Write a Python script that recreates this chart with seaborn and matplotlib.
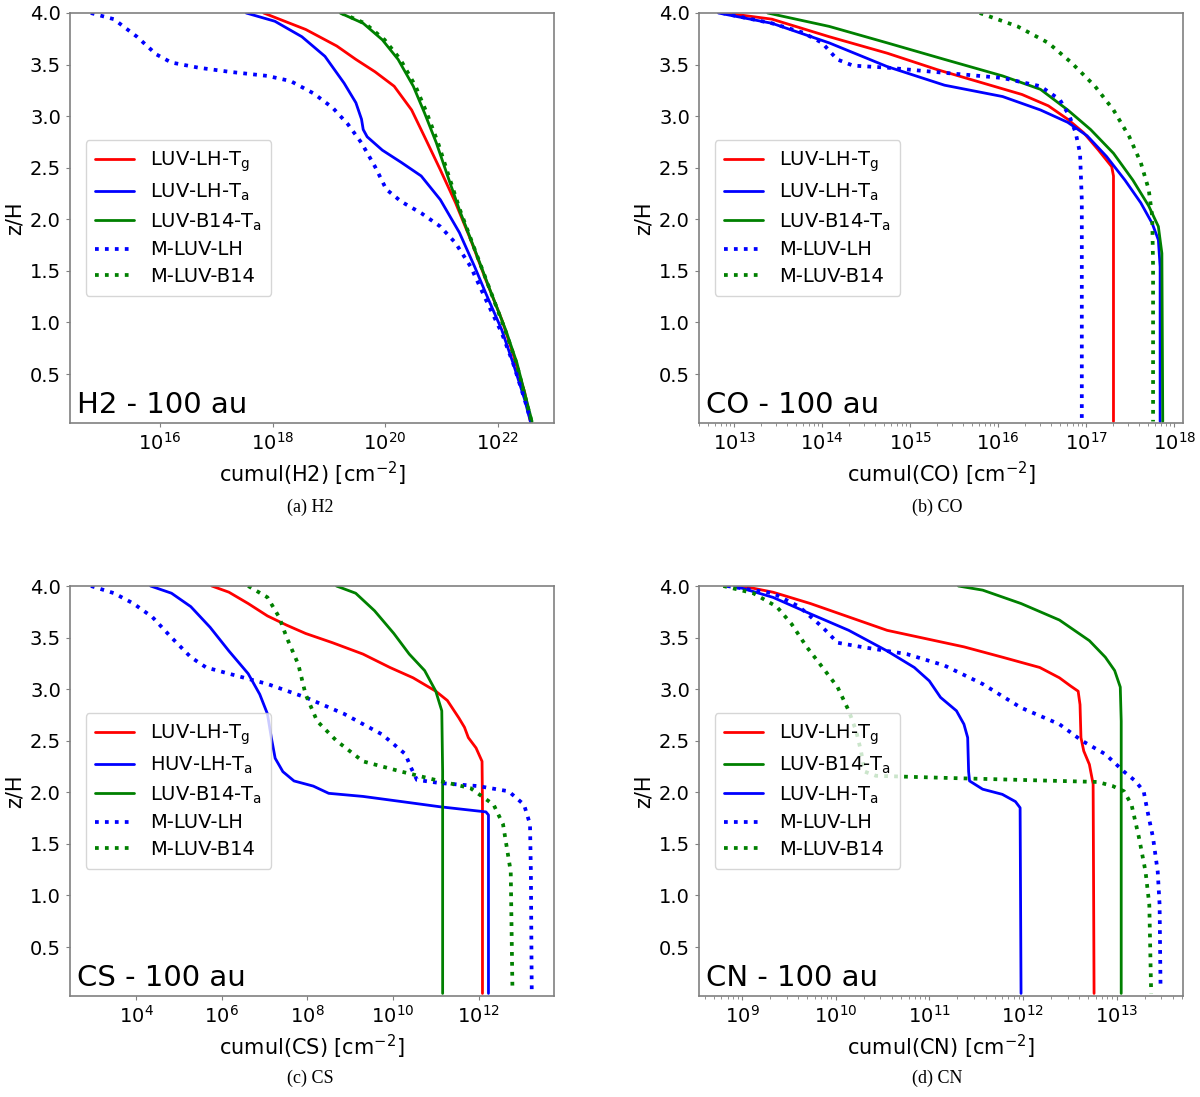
import numpy as np
import pandas as pd
import matplotlib
matplotlib.use("Agg")
import matplotlib.pyplot as plt
import seaborn as sns
from matplotlib import ticker

# ----------------------
# Data (z/H, log10 of cumulative column density)
# ----------------------

# (a) H2
h2_tg_z = [4.0, 3.84, 3.68, 3.55, 3.43, 3.29, 3.06, 2.80, 2.48, 2.16, 1.80, 1.41, 1.03, 0.70, 0.32, 0.04]
h2_tg_n = [17.84, 18.59, 19.14, 19.48, 19.82, 20.16, 20.47, 20.70, 20.98, 21.25, 21.52, 21.79, 22.07, 22.27, 22.48, 22.58]
h2_ta_z = [4.0, 3.92, 3.77, 3.58, 3.32, 3.13, 2.97, 2.87, 2.80, 2.67, 2.55, 2.42, 2.19, 1.87, 1.54, 1.28, 0.93, 0.61, 0.25, 0.04]
h2_ta_n = [17.53, 18.04, 18.52, 18.93, 19.27, 19.48, 19.58, 19.61, 19.68, 19.95, 20.29, 20.64, 20.98, 21.32, 21.59, 21.79, 22.07, 22.27, 22.48, 22.58]
h2_b14_z = [4.0, 3.90, 3.74, 3.55, 3.29, 3.03, 2.74, 2.42, 2.09, 1.71, 1.32, 0.93, 0.61, 0.25, 0.04]
h2_b14_n = [19.20, 19.61, 19.95, 20.23, 20.50, 20.70, 20.91, 21.11, 21.32, 21.59, 21.86, 22.14, 22.34, 22.51, 22.61]
h2_mlh_z = [4.0, 3.94, 3.77, 3.60, 3.52, 3.47, 3.43, 3.39, 3.34, 3.22, 3.08, 2.92, 2.74, 2.51, 2.29, 2.17, 2.06, 1.93, 1.77, 1.54, 1.22, 0.90, 0.61, 0.25, 0.06]
h2_mlh_n = [14.77, 15.18, 15.59, 15.93, 16.20, 16.68, 17.23, 17.91, 18.32, 18.73, 19.07, 19.34, 19.58, 19.82, 20.02, 20.29, 20.64, 20.98, 21.25, 21.52, 21.79, 22.07, 22.27, 22.48, 22.58]
h2_mb14_z = [4.0, 3.90, 3.74, 3.55, 3.29, 3.03, 2.74, 2.42, 2.09, 1.71, 1.32, 0.93, 0.61, 0.25, 0.04]
h2_mb14_n = [19.22, 19.64, 19.99, 20.27, 20.54, 20.74, 20.94, 21.13, 21.33, 21.59, 21.86, 22.13, 22.33, 22.50, 22.60]

# (b) CO
co_tg_z = [4.0, 3.94, 3.77, 3.61, 3.45, 3.32, 3.21, 3.10, 2.97, 2.84, 2.67, 2.51, 2.42, 0.04]
co_tg_n = [12.90, 13.43, 14.08, 14.74, 15.31, 15.83, 16.27, 16.57, 16.79, 16.97, 17.14, 17.29, 17.31, 17.31]
co_ta_z = [4.0, 3.90, 3.71, 3.48, 3.30, 3.19, 3.06, 2.94, 2.81, 2.61, 2.38, 2.16, 1.96, 1.80, 1.54, 0.04]
co_ta_n = [12.82, 13.43, 14.08, 14.74, 15.39, 16.05, 16.48, 16.79, 17.01, 17.23, 17.44, 17.62, 17.75, 17.82, 17.84, 17.84]
co_b14_z = [4.0, 3.87, 3.71, 3.55, 3.39, 3.26, 3.06, 2.87, 2.64, 2.38, 2.13, 1.93, 1.67, 0.04]
co_b14_n = [13.38, 14.08, 14.74, 15.39, 16.05, 16.48, 16.79, 17.05, 17.31, 17.53, 17.71, 17.82, 17.86, 17.87]
co_mlh_z = [4.0, 3.90, 3.81, 3.71, 3.55, 3.49, 3.47, 3.42, 3.37, 3.29, 3.16, 3.00, 2.84, 2.64, 2.19, 0.04]
co_mlh_n = [12.86, 13.43, 13.78, 14.00, 14.17, 14.35, 14.74, 15.39, 16.05, 16.48, 16.70, 16.81, 16.88, 16.93, 16.95, 16.95]
co_mb14_z = [4.0, 3.87, 3.71, 3.52, 3.29, 3.06, 2.80, 2.55, 2.29, 2.03, 1.54, 0.04]
co_mb14_n = [15.79, 16.22, 16.57, 16.83, 17.10, 17.31, 17.49, 17.62, 17.71, 17.75, 17.76, 17.76]

# (c) CS
cs_tg_z = [4.0, 3.94, 3.83, 3.71, 3.62, 3.54, 3.45, 3.34, 3.21, 3.11, 2.98, 2.89, 2.72, 2.63, 2.53, 2.43, 2.30, 1.88, 0.05]
cs_tg_n = [5.77, 6.17, 6.62, 7.07, 7.52, 7.96, 8.59, 9.30, 9.93, 10.47, 11.00, 11.27, 11.54, 11.67, 11.76, 11.94, 12.08, 12.09, 12.09]
cs_huv_z = [4.0, 3.93, 3.80, 3.60, 3.37, 3.15, 2.95, 2.76, 2.53, 2.33, 2.20, 2.11, 2.06, 1.99, 1.96, 1.91, 1.86, 1.81, 1.78, 0.05]
cs_huv_n = [4.34, 4.83, 5.28, 5.73, 6.17, 6.62, 6.89, 7.07, 7.16, 7.25, 7.43, 7.69, 8.14, 8.50, 9.30, 10.20, 11.09, 12.17, 12.23, 12.23]
cs_b14_z = [4.0, 3.93, 3.76, 3.54, 3.34, 3.18, 2.98, 2.79, 2.20, 0.05]
cs_b14_n = [8.68, 9.13, 9.57, 10.02, 10.38, 10.74, 11.00, 11.14, 11.16, 11.16]
cs_mlh_z = [4.0, 3.93, 3.83, 3.70, 3.50, 3.31, 3.21, 3.15, 3.05, 2.92, 2.76, 2.56, 2.37, 2.24, 2.12, 2.09, 2.06, 2.01, 1.88, 1.69, 1.23, 0.09]
cs_mlh_n = [2.95, 3.49, 3.94, 4.38, 4.83, 5.28, 5.64, 6.17, 7.07, 7.96, 8.86, 9.75, 10.29, 10.42, 10.56, 11.09, 11.99, 12.70, 13.06, 13.20, 13.22, 13.24]
cs_mb14_z = [4.0, 3.89, 3.70, 3.50, 3.24, 2.95, 2.69, 2.50, 2.30, 2.20, 2.11, 2.04, 1.88, 1.69, 1.23, 0.08]
cs_mb14_n = [6.62, 7.07, 7.34, 7.52, 7.79, 7.96, 8.23, 8.68, 9.30, 10.20, 11.09, 11.81, 12.35, 12.57, 12.75, 12.79]

# (d) CN
cn_tg_z = [4.0, 3.94, 3.83, 3.70, 3.57, 3.49, 3.41, 3.31, 3.21, 3.11, 3.03, 2.98, 2.85, 2.53, 2.40, 2.27, 2.08, 0.05]
cn_tg_n = [9.00, 9.33, 9.73, 10.14, 10.55, 10.96, 11.37, 11.78, 12.18, 12.39, 12.51, 12.59, 12.61, 12.62, 12.65, 12.71, 12.75, 12.76]
cn_b14_z = [4.0, 3.96, 3.83, 3.67, 3.47, 3.31, 3.18, 3.02, 2.69, 0.05]
cn_b14_n = [11.31, 11.57, 11.98, 12.39, 12.71, 12.88, 12.98, 13.04, 13.05, 13.05]
cn_ta_z = [4.0, 3.89, 3.73, 3.57, 3.37, 3.21, 3.08, 2.92, 2.79, 2.66, 2.53, 2.20, 2.11, 2.03, 1.98, 1.91, 1.85, 0.05]
cn_ta_n = [8.92, 9.33, 9.73, 10.14, 10.55, 10.84, 11.00, 11.12, 11.29, 11.37, 11.41, 11.42, 11.43, 11.57, 11.78, 11.92, 11.97, 11.98]
cn_mlh_z = [4.0, 3.93, 3.80, 3.60, 3.45, 3.41, 3.34, 3.23, 3.05, 2.82, 2.66, 2.50, 2.37, 2.20, 2.11, 2.01, 1.82, 1.56, 1.23, 0.91, 0.11]
cn_mlh_n = [8.84, 9.33, 9.61, 9.86, 10.02, 10.27, 10.76, 11.16, 11.57, 11.98, 12.39, 12.63, 12.88, 13.08, 13.20, 13.29, 13.33, 13.39, 13.44, 13.46, 13.47]
cn_mb14_z = [4.0, 3.93, 3.80, 3.63, 3.41, 3.21, 3.02, 2.79, 2.59, 2.40, 2.20, 2.16, 2.14, 2.12, 2.10, 2.06, 2.01, 1.88, 1.56, 1.23, 0.91, 0.05]
cn_mb14_n = [8.80, 9.12, 9.37, 9.53, 9.69, 9.86, 10.02, 10.14, 10.22, 10.27, 10.31, 10.43, 11.16, 11.98, 12.80, 12.96, 13.08, 13.16, 13.24, 13.31, 13.35, 13.37]

# ----------------------
# Panel setup
# ----------------------

red_lh = ("LUV-LH-T$_\\mathregular{g}$", "red", "-")
blue_lh = ("LUV-LH-T$_\\mathregular{a}$", "blue", "-")
blue_huv = ("HUV-LH-T$_\\mathregular{a}$", "blue", "-")
green_b14 = ("LUV-B14-T$_\\mathregular{a}$", "green", "-")
m_lh = ("M-LUV-LH", "blue", ":")
m_b14 = ("M-LUV-B14", "green", ":")

panels = [
    dict(name="H2", cap="(a) H2", xlim=(10**14.4, 10**23.0), minor=False,
         ticks=[1e16, 1e18, 1e20, 1e22],
         lines=[(red_lh, h2_tg_n, h2_tg_z), (blue_lh, h2_ta_n, h2_ta_z),
                (green_b14, h2_b14_n, h2_b14_z), (m_lh, h2_mlh_n, h2_mlh_z),
                (m_b14, h2_mb14_n, h2_mb14_z)]),
    dict(name="CO", cap="(b) CO", xlim=(10**12.6, 10**18.1), minor=True,
         ticks=[1e13, 1e14, 1e15, 1e16, 1e17, 1e18],
         lines=[(red_lh, co_tg_n, co_tg_z), (blue_lh, co_ta_n, co_ta_z),
                (green_b14, co_b14_n, co_b14_z), (m_lh, co_mlh_n, co_mlh_z),
                (m_b14, co_mb14_n, co_mb14_z)]),
    dict(name="CS", cap="(c) CS", xlim=(10**2.46, 10**13.76), minor=False,
         ticks=[1e4, 1e6, 1e8, 1e10, 1e12],
         lines=[(red_lh, cs_tg_n, cs_tg_z), (blue_huv, cs_huv_n, cs_huv_z),
                (green_b14, cs_b14_n, cs_b14_z), (m_lh, cs_mlh_n, cs_mlh_z),
                (m_b14, cs_mb14_n, cs_mb14_z)]),
    dict(name="CN", cap="(d) CN", xlim=(10**8.54, 10**13.71), minor=True,
         ticks=[1e9, 1e10, 1e11, 1e12, 1e13],
         lines=[(red_lh, cn_tg_n, cn_tg_z), (green_b14, cn_b14_n, cn_b14_z),
                (blue_lh, cn_ta_n, cn_ta_z), (m_lh, cn_mlh_n, cn_mlh_z),
                (m_b14, cn_mb14_n, cn_mb14_z)]),
]

sns.set_style("white")
plt.rcParams['font.family'] = ['DejaVu Sans']
plt.rcParams['text.color'] = 'black'
plt.rcParams['axes.labelcolor'] = 'black'

fig = plt.figure(figsize=(12, 10.97), dpi=100)

W, H = 1200.0, 1097.0
boxes = [(70, 13, 554, 423), (699, 13, 1183, 423),
         (70, 586, 554, 996), (699, 586, 1183, 996)]
cap_pos = [(310, 507), (937, 507), (310, 1078), (937, 1078)]

for p, (x0, y0, x1, y1), (cx, cy) in zip(panels, boxes, cap_pos):
    ax = fig.add_axes([x0 / W, 1 - y1 / H, (x1 - x0) / W, (y1 - y0) / H])

    for (label, color, ls), logn, z in p["lines"]:
        df = pd.DataFrame({"N": 10 ** np.array(logn), "z": z})
        sns.lineplot(data=df, x="N", y="z", sort=False, estimator=None,
                     color=color, linestyle=ls,
                     linewidth=2.7 if ls == ":" else 2.0,
                     label=label, ax=ax)

    ax.set_xscale("log")
    ax.set_xlim(*p["xlim"])
    ax.set_ylim(0.025, 4.0)
    ax.set_xticks(p["ticks"])
    ax.xaxis.set_major_formatter(ticker.LogFormatterSciNotation())
    if p["minor"]:
        ax.xaxis.set_minor_locator(ticker.LogLocator(base=10, subs=np.arange(2, 10), numticks=50))
        ax.xaxis.set_minor_formatter(ticker.NullFormatter())
    else:
        ax.xaxis.set_minor_locator(ticker.NullLocator())
    ax.set_yticks([0.5, 1.0, 1.5, 2.0, 2.5, 3.0, 3.5, 4.0])

    for s in ax.spines.values():
        s.set_color("#808080")
        s.set_linewidth(1.2)
    ax.tick_params(axis="both", which="major", direction="out", length=3,
                   width=0.8, color="#808080", labelcolor="black",
                   labelsize=14, bottom=True, left=True)
    ax.tick_params(axis="x", which="minor", direction="out", length=2,
                   width=0.6, color="#808080", bottom=True)

    ax.set_xlabel("cumul(%s) [cm$^{-2}$]" % p["name"], fontsize=15)
    ax.set_ylabel("z/H", fontsize=15)

    ax.text(0.014, 0.01, "%s - 100 au" % p["name"], transform=ax.transAxes,
            fontsize=21, ha="left", va="bottom", color="black")

    leg = ax.legend(loc="center left", fontsize=14, frameon=True, framealpha=0.8,
                    handlelength=2.0, borderpad=0.5, labelspacing=0.4,
                    borderaxespad=0.8)
    for t in leg.get_texts():
        t.set_color("black")

    fig.text(cx / W, 1 - cy / H, p["cap"], ha="center", va="center",
             fontsize=13, family="Liberation Serif", color="black")

fig.savefig("out.png", dpi=100)
